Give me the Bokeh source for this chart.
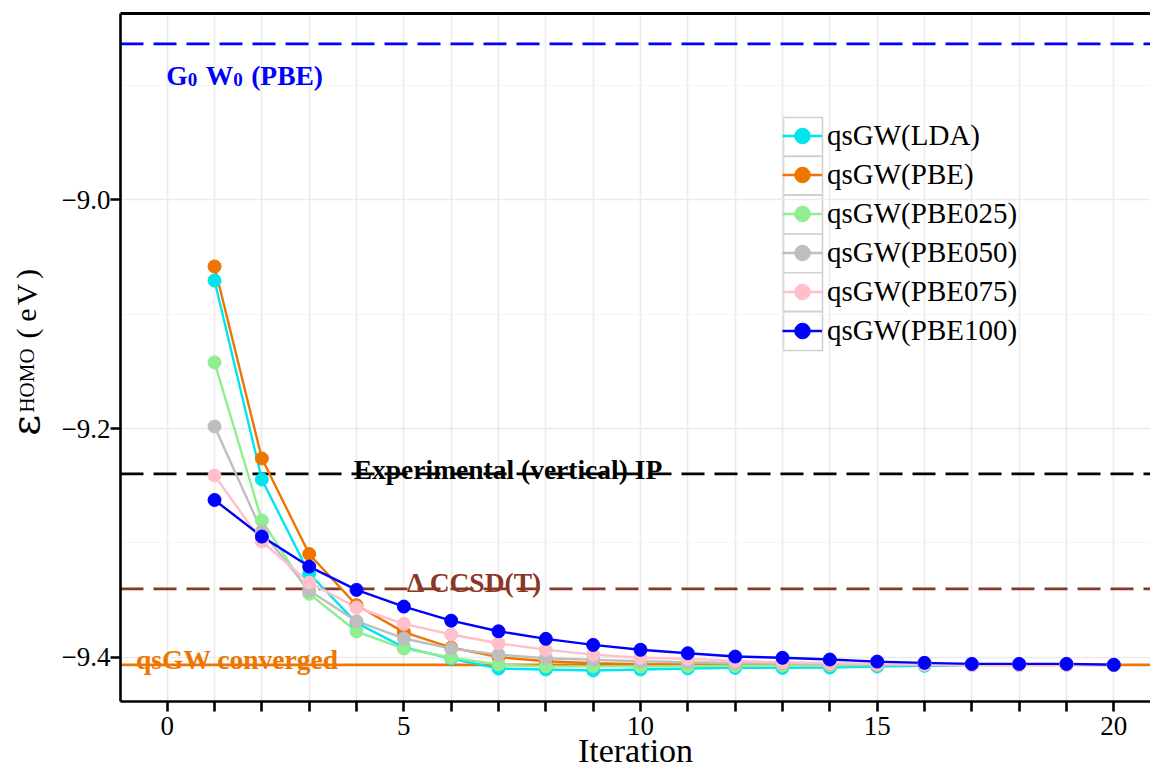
import math
from bokeh.plotting import figure
from bokeh.layouts import row
from bokeh.models import (Range1d, FixedTicker, CustomJSTickFormatter, LinearAxis,
                          Span, Label, Legend, LegendItem, ColumnDataSource)
from bokeh.embed import file_html
from bokeh.resources import INLINE

# ---------------- data ----------------
iterations = list(range(1, 21))

series_names = ["qsGW(LDA)", "qsGW(PBE)", "qsGW(PBE025)", "qsGW(PBE050)",
                "qsGW(PBE075)", "qsGW(PBE100)"]
series_colors = ["#00E5EE", "#EE7600", "#90EE90", "#BEBEBE", "#FFC0CB", "#0000FF"]

qsgw_lda = [-9.0706, -9.2446, -9.3268, -9.3700, -9.3914, -9.4011, -9.4099, -9.4107,
            -9.4116, -9.4107, -9.4098, -9.4093, -9.4093, -9.4090, -9.4081, -9.4075,
            -9.4067, -9.4067, -9.4067, -9.4067]
qsgw_pbe = [-9.0583, -9.2262, -9.3097, -9.3545, -9.3780, -9.3915, -9.3999, -9.4035,
            -9.4052, -9.4061, -9.4064, -9.4066, -9.4066, -9.4066, -9.4066, -9.4066,
            -9.4066, -9.4066, -9.4066, -9.4066]
qsgw_pbe025 = [-9.1422, -9.2804, -9.3445, -9.3775, -9.3924, -9.4003, -9.4064, -9.4080,
               -9.4080, -9.4080, -9.4078, -9.4075, -9.4072, -9.4070, -9.4068, -9.4066,
               -9.4066, -9.4066, -9.4066, -9.4066]
qsgw_pbe050 = [-9.1982, -9.2900, -9.3417, -9.3685, -9.3836, -9.3924, -9.3977, -9.4009,
               -9.4023, -9.4035, -9.4044, -9.4051, -9.4055, -9.4060, -9.4064, -9.4066,
               -9.4066, -9.4066, -9.4066, -9.4066]
qsgw_pbe075 = [-9.2411, -9.2988, -9.3347, -9.3565, -9.3708, -9.3801, -9.3878, -9.3935,
               -9.3977, -9.4005, -9.4014, -9.4032, -9.4044, -9.4052, -9.4058, -9.4064,
               -9.4066, -9.4066, -9.4066, -9.4066]
qsgw_pbe100 = [-9.2625, -9.2945, -9.3207, -9.3411, -9.3557, -9.3680, -9.3773, -9.3839,
               -9.3892, -9.3935, -9.3965, -9.3994, -9.4005, -9.4020, -9.4038, -9.4049,
               -9.4058, -9.4058, -9.4058, -9.4066]

g0w0_pbe = -8.8636
experimental_ip = -9.2396
delta_ccsdt = -9.3402
qsgw_converged = -9.4066

x_ticks = list(range(0, 21))
y_ticks = [-9.4, -9.2, -9.0]
y_minor_ticks = [-9.3, -9.1, -8.9]

# ---------------- layout ----------------
W, H = 1150, 772
LW = 50                       # width of the strip holding the y title
FL, FR, FT, FB = 120, 1150, 13, 701
X_START, X_END = -0.9867, 20.775
Y_START, Y_END = -9.4387, -8.8371


def sx2x(px):
    return X_START + (px - FL) / (FR - FL) * (X_END - X_START)


def sy2y(py):
    return Y_END - (py - FT) / (FB - FT) * (Y_END - Y_START)


SERIF = "Liberation Serif"

p = figure(width=W - LW, height=H, output_backend="svg", toolbar_location=None,
           x_range=Range1d(X_START, X_END), y_range=Range1d(Y_START, Y_END),
           min_border_left=FL - LW, min_border_right=W - FR, min_border_top=FT,
           min_border_bottom=H - FB)
p.outline_line_color = None
p.background_fill_color = "white"
p.border_fill_color = "white"

# axes
for ax in (p.xaxis[0], p.yaxis[0]):
    ax.axis_line_width = 2.6
    ax.axis_line_color = "black"
    ax.major_tick_line_width = 2.6
    ax.major_tick_line_color = "black"
    ax.major_tick_out = 10
    ax.major_tick_in = 0
    ax.minor_tick_out = 0
    ax.minor_tick_in = 0
    ax.major_label_text_font = SERIF
    ax.major_label_text_font_size = "27px"
    ax.major_label_text_color = "black"

p.xaxis[0].ticker = FixedTicker(ticks=x_ticks)
p.xaxis[0].formatter = CustomJSTickFormatter(
    code="return (Math.round(tick) % 5 == 0) ? tick.toFixed(0) : '';")
p.xaxis[0].major_label_standoff = 5
p.xaxis[0].axis_label = "Iteration"
p.xaxis[0].axis_label_text_font = SERIF
p.xaxis[0].axis_label_text_font_size = "34px"
p.xaxis[0].axis_label_text_font_style = "normal"
p.xaxis[0].axis_label_text_color = "black"
p.xaxis[0].axis_label_standoff = -6

p.yaxis[0].ticker = FixedTicker(ticks=y_ticks, minor_ticks=y_minor_ticks)
p.yaxis[0].formatter = CustomJSTickFormatter(
    code="return tick.toFixed(1).replace('-', '\u2212');")
p.yaxis[0].major_label_standoff = 0
p.yaxis[0].axis_label = None

# top border
top_axis = LinearAxis(ticker=FixedTicker(ticks=[]), axis_line_width=3,
                      axis_line_color="black", major_tick_out=0, major_tick_in=0,
                      minor_tick_out=0, minor_tick_in=0,
                      major_label_text_font_size="0px")
p.add_layout(top_axis, "above")

# grids
p.xgrid[0].ticker = FixedTicker(ticks=x_ticks)
p.xgrid[0].grid_line_color = "#EBEBEB"
p.xgrid[0].grid_line_width = 1.6
p.ygrid[0].ticker = FixedTicker(ticks=y_ticks, minor_ticks=y_minor_ticks)
p.ygrid[0].grid_line_color = "#EBEBEB"
p.ygrid[0].grid_line_width = 1.4
p.ygrid[0].minor_grid_line_color = "#F5F5F5"
p.ygrid[0].minor_grid_line_width = 1.2

# reference lines
DASH = "23 10"
for yv, col, dash in [(g0w0_pbe, "#0000FF", DASH), (experimental_ip, "black", DASH),
                      (delta_ccsdt, "#8B3626", DASH), (qsgw_converged, "#EE7600", "solid")]:
    p.add_layout(Span(location=yv, dimension="width", line_color=col, line_width=2.8,
                      line_dash=dash, level="underlay"))

# legend background and grey key frames (drawn beneath the transparent legend)
p.quad(left=[sx2x(774)], right=[sx2x(1028)], top=[sy2y(79)], bottom=[sy2y(356)],
       fill_color="white", line_color=None, level="underlay")
key_top = [117 + 38.83 * i for i in range(6)]
p.quad(left=[sx2x(783)] * 6, right=[sx2x(822)] * 6,
       top=[sy2y(t) for t in key_top], bottom=[sy2y(t + 38.83) for t in key_top],
       fill_color="white", line_color="#D0D0D0", line_width=1.6, level="underlay")

# series
all_series = [qsgw_lda, qsgw_pbe, qsgw_pbe025, qsgw_pbe050, qsgw_pbe075, qsgw_pbe100]
line_rs, pt_rs = [], []
for vals, col in zip(all_series, series_colors):
    src = ColumnDataSource(dict(x=iterations, y=vals))
    line_rs.append(p.line("x", "y", source=src, line_color=col, line_width=2.4))
for vals, col in zip(all_series, series_colors):
    src = ColumnDataSource(dict(x=iterations, y=vals))
    pt_rs.append(p.scatter("x", "y", source=src, size=13, marker="circle",
                           fill_color=col, line_color=col))

legend = Legend(items=[LegendItem(label=n, renderers=[lr, pr])
                       for n, lr, pr in zip(series_names, line_rs, pt_rs)],
                location=(662, 351), orientation="vertical",
                glyph_width=40, glyph_height=39, spacing=0, padding=10,
                label_standoff=5, label_text_font=SERIF, label_text_font_size="29px",
                label_text_color="black", border_line_color=None,
                background_fill_alpha=0.0)
p.add_layout(legend)

# annotation texts
BOLD = dict(text_font=SERIF, text_font_style="bold", text_baseline="alphabetic")
FS = "27.5px"
gx, gy = sx2x(165.7), sy2y(75)
for txt, dx, dy, fs in [("G", 0, 0, FS), ("0", 21.5, -4, "19px"), ("W", 39.5, 0, FS),
                        ("0", 67, -4, "19px"), ("(PBE)", 85, 0, FS)]:
    p.add_layout(Label(x=gx, y=gy, x_offset=dx, y_offset=dy, text=txt,
                       text_font_size=fs, text_color="#0000FF", text_align="left", **BOLD))

p.add_layout(Label(x=7.2, y=sy2y(469), text="Experimental (vertical) IP",
                   text_font_size=FS, text_color="black", text_align="center", **BOLD))
p.add_layout(Label(x=6.5, y=sy2y(582), text="\u0394 CCSD(T)",
                   text_font_size=FS, text_color="#8B3626", text_align="center", **BOLD))
p.add_layout(Label(x=1.48, y=sy2y(659), text="qsGW converged",
                   text_font_size=FS, text_color="#EE7600", text_align="center", **BOLD))

# ---------------- y title strip (its frame is aligned with the main frame) ----------------
ylab = figure(width=LW, height=H, output_backend="svg", toolbar_location=None,
              x_range=Range1d(0, LW), y_range=Range1d(H - FB, H - FT),
              x_axis_type=None, y_axis_type=None,
              min_border_left=0, min_border_right=0, min_border_top=FT,
              min_border_bottom=H - FB)
ylab.outline_line_color = None
ylab.background_fill_color = "white"
ylab.border_fill_color = "white"

ROT = dict(angle=math.pi / 2, text_color="black",
           text_align="center", text_baseline="middle")
ylab.add_layout(Label(x=24, y=H - 425, text="\u03b5", text_font="DejaVu Serif",
                      text_font_size="40px", **ROT))
ylab.add_layout(Label(x=26, y=H - 380, text="HOMO", text_font=SERIF,
                      text_font_size="21px", **ROT))
for txt, py in [("(", 333), ("e", 314.5), ("V", 294), (")", 273.5)]:
    ylab.add_layout(Label(x=26, y=H - py, text=txt, text_font=SERIF,
                          text_font_size="30px", **ROT))

layout = row(ylab, p, spacing=0)
open("out.html", "w").write(file_html(layout, INLINE))
